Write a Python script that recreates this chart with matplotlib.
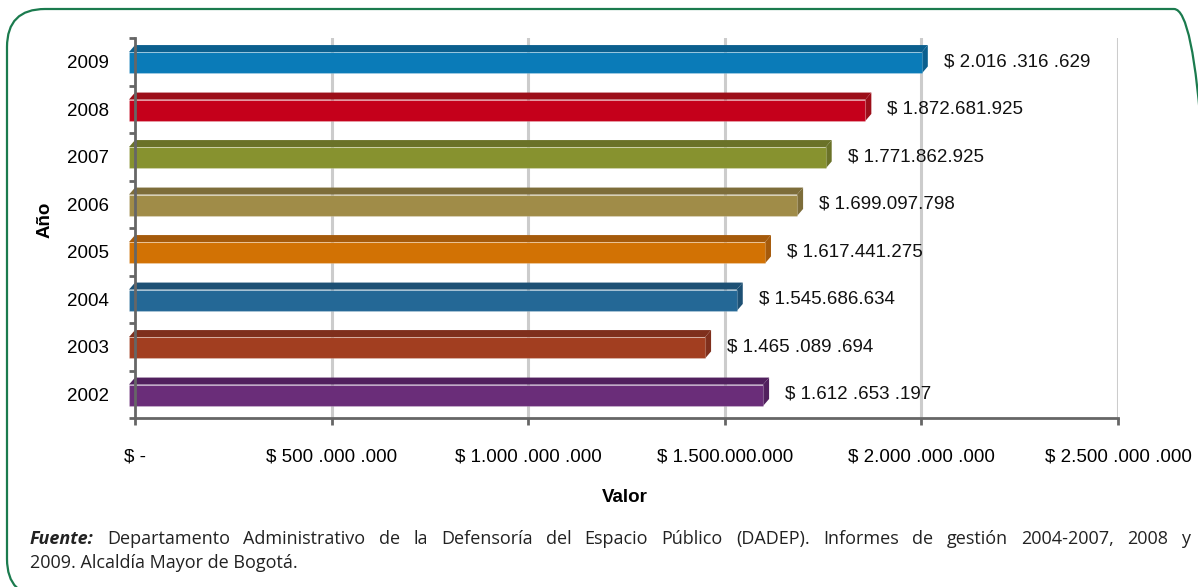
import numpy as np
import matplotlib
matplotlib.use("Agg")
import matplotlib.pyplot as plt
from matplotlib.patches import Polygon, FancyBboxPatch
from matplotlib.transforms import IdentityTransform

# datos
years = ["2002", "2003", "2004", "2005", "2006", "2007", "2008", "2009"]
values = [1612653197, 1465089694, 1545686634, 1617441275,
          1699097798, 1771862925, 1872681925, 2016316629]
value_labels = ["$ 1.612 .653 .197", "$ 1.465 .089 .694", "$ 1.545.686.634",
                "$ 1.617.441.275", "$ 1.699.097.798", "$ 1.771.862.925",
                "$ 1.872.681.925", "$ 2.016 .316 .629"]
front_colors = ["#6A2D79", "#A23E20", "#246896", "#D27204",
                "#A08C48", "#87922F", "#C5001B", "#0A7BB8"]
top_colors = ["#51205E", "#7F2F1C", "#1D5074", "#A55A0B",
              "#7D6D3A", "#6A7228", "#9C0E19", "#0B5F8E"]
x_ticks = [0, 5e8, 1e9, 1.5e9, 2e9, 2.5e9]
x_tick_labels = ["$ -", "$ 500 .000 .000", "$ 1.000 .000 .000", "$ 1.500.000.000",
                 "$ 2.000 .000 .000", "$ 2.500 .000 .000"]

plt.rcParams["font.family"] = ["Liberation Sans", "DejaVu Sans"]

W, H = 1198, 587
fig = plt.figure(figsize=(W / 100, H / 100), dpi=100)

left, right, bottom, top = 135, 1118, 418, 38
ax = fig.add_axes([left / W, 1 - bottom / H, (right - left) / W, (bottom - top) / H])
xmax = 2.5e9
ax.set_xlim(0, xmax)
ax.set_ylim(-0.5, 7.5)

px_x = xmax / (right - left)
px_y = 8 / (bottom - top)
dx = 6 * px_x
dy = 7 * px_y
half = 0.225
fs = 13.5

# rejilla
for xt in x_ticks[1:]:
    ax.axvline(xt, color="#CCCCCC", lw=2.2, zorder=0)

for i, v in enumerate(values):
    yb = i - half - 1 * px_y
    yt = i + half - 1 * px_y
    front = Polygon([(-dx, yb), (v - dx, yb), (v - dx, yt), (-dx, yt)],
                    closed=True, facecolor=front_colors[i],
                    edgecolor=(1, 1, 1, 0.2), lw=0.8, zorder=3)
    topf = Polygon([(-dx, yt), (v - dx, yt), (v, yt + dy), (0, yt + dy)],
                   closed=True, facecolor=top_colors[i], edgecolor="none", zorder=3)
    side = Polygon([(v - dx, yb), (v - dx, yt), (v, yt + dy), (v, yb + dy)],
                   closed=True, facecolor=top_colors[i], edgecolor="none", zorder=3)
    for p in (topf, side, front):
        p.set_clip_on(False)
        ax.add_patch(p)
    ax.text(v + 16 * px_x, i, value_labels[i], ha="left", va="center",
            fontsize=fs, color="#111111")

for s in ("top", "right"):
    ax.spines[s].set_visible(False)
for s in ("left", "bottom"):
    ax.spines[s].set_color("#666666")
    ax.spines[s].set_linewidth(2)
    ax.spines[s].set_zorder(4)

ax.set_xticks(x_ticks)
ax.set_xticklabels(x_tick_labels, fontsize=fs)
ax.tick_params(axis="x", direction="out", length=5, width=2, color="#666666", pad=17)

ax.set_yticks(range(len(years)))
ax.set_yticklabels(years, fontsize=fs)
ax.tick_params(axis="y", length=0, pad=19)
ax.set_yticks(np.arange(-0.5, 8, 1), minor=True)
ax.tick_params(axis="y", which="minor", direction="out", length=4.5, width=2, color="#666666")

ax.set_xlabel("Valor", fontsize=fs, fontweight="bold")
ax.set_ylabel("Año", fontsize=fs, fontweight="bold")
ax.xaxis.set_label_coords((625 - left) / (right - left), (bottom - 497) / (bottom - top))
ax.yaxis.set_label_coords((45 - left) / (right - left), (bottom - 220) / (bottom - top))
ax.xaxis.label.set_va("center")
ax.yaxis.label.set_va("center")

# marco verde redondeado
frame = FancyBboxPatch((7, -10), 1205, 578 + 10, boxstyle="round,pad=0,rounding_size=38",
                       transform=IdentityTransform(), facecolor="none",
                       edgecolor="#1B7B4E", lw=1.6)
fig.patches.append(frame)

# fuente (justificada en la primera línea)
foot_font = ["Open Sans", "DejaVu Sans"]
fsize = 13
renderer = fig.canvas.get_renderer()
line1 = ("Departamento Administrativo de la Defensoría del Espacio Público (DADEP). "
         "Informes de gestión 2004-2007, 2008 y").split()
x0, x1 = 30, 1190
y1 = H - 544
t0 = fig.text(x0 / W, y1 / H, "Fuente:", fontsize=fsize, family=foot_font,
              fontweight="bold", style="italic", color="#222222", va="baseline")
widths = [t0.get_window_extent(renderer).width]
texts = [t0]
for w in line1:
    t = fig.text(0, y1 / H, w, fontsize=fsize, family=foot_font,
                 color="#222222", va="baseline")
    texts.append(t)
    widths.append(t.get_window_extent(renderer).width)
gap = (x1 - x0 - sum(widths)) / (len(widths) - 1)
xc = x0
for t, wd in zip(texts, widths):
    t.set_x(xc / W)
    xc += wd + gap
fig.text(x0 / W, (H - 568) / H, "2009. Alcaldía Mayor de Bogotá.", fontsize=fsize,
         family=foot_font, color="#222222", va="baseline")

fig.savefig("out.png", dpi=100)
